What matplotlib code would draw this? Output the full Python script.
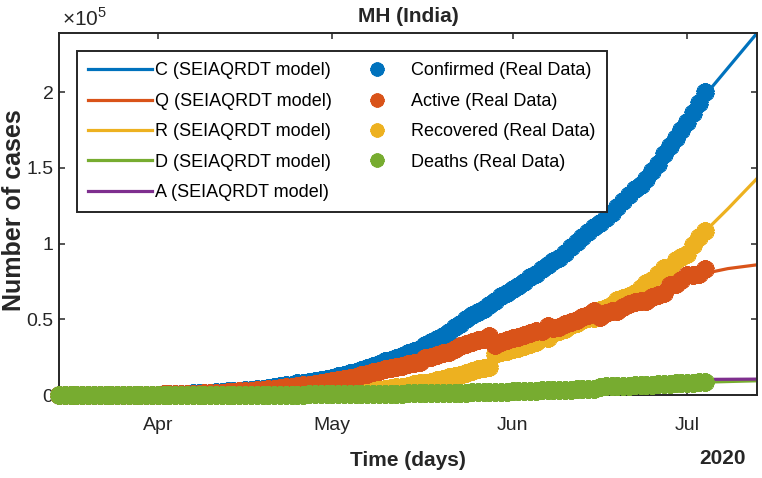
import matplotlib
matplotlib.use("Agg")
import matplotlib.pyplot as plt
import matplotlib.dates as mdates
from matplotlib import font_manager
from matplotlib.lines import Line2D
import pandas as pd

# real data (thousands of cases), one value per day from 15 Mar to 4 Jul 2020
days = pd.date_range("2020-03-15", "2020-07-04")

confirmed_k = [
    0.03, 0.04, 0.04, 0.05, 0.05, 0.05, 0.06, 0.07, 0.10, 0.11, 0.12, 0.13, 0.15, 0.19, 0.20, 0.22, 0.30,
    0.34, 0.42, 0.49, 0.64, 0.75, 0.87, 1.02, 1.14, 1.36, 1.57, 1.76, 1.98, 2.33, 2.69, 2.92,
    3.21, 3.32, 3.65, 4.20, 4.67, 5.22, 5.65, 6.43, 6.82, 7.63, 8.07, 8.59, 9.32, 9.92, 10.50,
    11.5, 12.3, 13.0, 14.5, 15.5, 16.8, 18.0, 19.1, 20.2, 22.2, 23.4, 24.4, 25.9, 27.5, 29.1, 30.7,
    33.1, 35.1, 37.1, 39.3, 41.6, 44.6, 47.2, 50.2, 52.7, 54.8, 56.9, 59.5, 62.2, 65.2, 67.7,
    70.0, 72.3, 74.9, 77.8, 80.2, 83.0, 86.0, 88.5, 90.8, 94.0, 97.6, 101.1, 104.6, 108.0, 110.7,
    113.4, 116.8, 120.5, 124.3, 128.2, 132.1, 135.8, 139.0, 142.9, 147.7, 152.8, 159.1, 164.6, 169.9, 174.8,
    180.3, 186.6, 193.0, 200.1,
]
active_k = [
    0.03, 0.04, 0.04, 0.05, 0.05, 0.05, 0.06, 0.07, 0.10, 0.11, 0.12, 0.11, 0.11, 0.15, 0.16, 0.17, 0.25,
    0.28, 0.36, 0.41, 0.56, 0.64, 0.75, 0.88, 0.95, 1.13, 1.27, 1.42, 1.61, 1.94, 2.25, 2.43,
    2.72, 2.79, 3.07, 3.47, 3.87, 4.25, 4.59, 5.31, 5.56, 6.20, 6.54, 6.94, 7.53, 7.90, 8.27,
    9.13, 9.78, 10.33, 11.45, 12.06, 13.06, 14.01, 14.9, 15.62, 17.17, 17.74, 18.35, 19.37, 20.42, 20.94, 21.87,
    24.21, 25.41, 26.13, 27.61, 28.45, 30.48, 32.22, 33.96, 35.2, 36.11, 37.1, 38.92, 33.1, 34.9, 36.11,
    37.43, 38.41, 39.89, 41.25, 42.03, 42.54, 45.43, 44.31, 44.86, 46.96, 47.91, 49.58, 51.47, 53.15, 55.57,
    51.86, 53.85, 55.55, 55.61, 58.13, 60.12, 61.57, 62.07, 62.36, 64.57, 65.89, 67.63, 72.97, 73.39, 76.04,
    79.05, 79.22, 79.92, 83.33,
]
recovered_k = [
    0, 0, 0, 0, 0, 0, 0, 0, 0, 0, 0, 0.02, 0.03, 0.03, 0.03, 0.04, 0.04,
    0.04, 0.04, 0.05, 0.05, 0.06, 0.07, 0.08, 0.12, 0.13, 0.19, 0.21, 0.22, 0.23, 0.26, 0.30,
    0.30, 0.33, 0.37, 0.51, 0.57, 0.72, 0.79, 0.84, 0.96, 1.11, 1.19, 1.28, 1.39, 1.59, 1.77,
    1.88, 2.00, 2.12, 2.47, 2.82, 3.09, 3.30, 3.47, 3.80, 4.20, 4.79, 5.13, 5.55, 6.06, 7.09, 7.69,
    7.69, 8.44, 9.64, 10.3, 11.7, 12.6, 13.4, 14.6, 15.8, 16.9, 17.9, 18.6, 27.0, 28.1, 29.3,
    30.1, 31.3, 32.3, 33.7, 35.2, 37.4, 37.4, 40.9, 42.6, 43.6, 46.1, 47.8, 49.3, 50.9, 51.0,
    56.0, 57.3, 59.2, 62.8, 63.9, 65.7, 67.7, 70.4, 73.8, 76.2, 79.8, 84.2, 84.2, 88.9, 90.9,
    93.2, 99.2, 104.7, 108.1,
]
deaths_k = [
    0, 0, 0, 0, 0, 0, 0, 0, 0, 0, 0, 0, 0.01, 0.01, 0.01, 0.01, 0.01,
    0.02, 0.02, 0.03, 0.03, 0.05, 0.05, 0.06, 0.07, 0.10, 0.11, 0.13, 0.15, 0.16, 0.18, 0.19,
    0.19, 0.20, 0.21, 0.22, 0.23, 0.25, 0.27, 0.28, 0.30, 0.32, 0.34, 0.37, 0.40, 0.43, 0.46,
    0.49, 0.52, 0.55, 0.58, 0.62, 0.65, 0.69, 0.73, 0.78, 0.83, 0.87, 0.92, 0.98, 1.02, 1.07, 1.14,
    1.20, 1.25, 1.33, 1.39, 1.45, 1.52, 1.58, 1.64, 1.70, 1.79, 1.90, 1.98, 2.10, 2.20, 2.29,
    2.47, 2.59, 2.71, 2.85, 2.97, 3.06, 3.17, 3.29, 3.34, 3.44, 3.59, 3.72, 3.83, 3.95, 4.13,
    5.54, 5.65, 5.75, 5.89, 6.17, 6.28, 6.53, 6.53, 6.74, 6.93, 7.11, 7.27, 7.43, 7.61, 7.86,
    8.05, 8.18, 8.38, 8.67,
]

# SEIAQRDT model curves (thousands)
model_dates = pd.to_datetime([
    "2020-03-15", "2020-03-25", "2020-04-04", "2020-04-14", "2020-04-24", "2020-05-04", "2020-05-14",
    "2020-05-24", "2020-06-03", "2020-06-13", "2020-06-23", "2020-07-03", "2020-07-08", "2020-07-13",
])
model_C = [0, 0.13, 0.6, 2.3, 6.8, 13.5, 27.5, 50, 75, 104.5, 139, 193, 216, 239]
model_Q = [0, 0.12, 0.5, 2.1, 5.6, 11, 20, 34, 40, 50, 62, 79.5, 83.5, 86]
model_R = [0, 0.02, 0.06, 0.3, 1.0, 2.3, 5.2, 14, 30, 46, 68, 104, 123, 143]
model_D = [0, 0.005, 0.03, 0.18, 0.3, 0.6, 1.0, 1.6, 2.7, 3.9, 6.5, 8.4, 8.9, 9.4]
model_A = [0, 0.1, 0.4, 1.2, 2.0, 3.0, 4.0, 5.0, 5.5, 7.0, 9.3, 10.3, 10.4, 10.5]

model_labels = ["C (SEIAQRDT model)", "Q (SEIAQRDT model)", "R (SEIAQRDT model)",
                "D (SEIAQRDT model)", "A (SEIAQRDT model)"]
real_labels = ["Confirmed (Real Data)", "Active (Real Data)", "Recovered (Real Data)", "Deaths (Real Data)"]

BLUE, ORANGE, YELLOW, PURPLE, GREEN = "#0072BD", "#D95319", "#EDB120", "#7E2F8E", "#77AC30"

try:
    font_manager.findfont("Liberation Sans Narrow", fallback_to_default=False)
    NARROW = "Liberation Sans Narrow"
    LEG_SIZE = 16
except Exception:
    NARROW = "Liberation Sans"
    LEG_SIZE = 13

plt.rcParams["font.family"] = ["Liberation Sans", "DejaVu Sans"]
plt.rcParams["mathtext.fontset"] = "custom"
plt.rcParams["mathtext.rm"] = "Liberation Sans"

fig = plt.figure(figsize=(7.62, 4.78), dpi=100)
ax = fig.add_axes([0.0774, 0.1736, 0.916, 0.757])

k = 1000.0
model_series = [(model_C, BLUE), (model_Q, ORANGE), (model_R, YELLOW), (model_D, GREEN), (model_A, PURPLE)]
for (vals, col), lab in zip(model_series, model_labels):
    ax.plot(model_dates, [v * k for v in vals], color=col, lw=2.3, label=lab, zorder=2)

star = (10, 2, 0)
mk = dict(ls="none", marker=star, ms=13, mew=3.4, clip_on=False, zorder=3)
ax.plot(days, [v * k for v in confirmed_k], color=BLUE, **mk)
ax.plot(days, [v * k for v in recovered_k], color=YELLOW, **mk)
ax.plot(days, [v * k for v in active_k], color=ORANGE, **mk)
ax.plot(days, [v * k for v in deaths_k], color=GREEN, **mk)

ax.set_xlim(pd.Timestamp("2020-03-15"), pd.Timestamp("2020-07-13"))
ax.set_ylim(0, 239000)

ax.xaxis.set_major_locator(mdates.MonthLocator(bymonth=[4, 5, 6, 7]))
ax.xaxis.set_major_formatter(mdates.DateFormatter("%b"))
ax.set_yticks([0, 50000, 100000, 150000, 200000])
ax.set_yticklabels(["0", "0.5", "1", "1.5", "2"])

axcol = "#262626"
for sp in ax.spines.values():
    sp.set_linewidth(1.4)
    sp.set_color(axcol)
    sp.set_zorder(2.5)
ax.tick_params(direction="in", top=True, right=True, length=4.5, width=1.1, color=axcol,
               labelsize=14, labelcolor="#262626")
ax.tick_params(axis="x", pad=16)
ax.tick_params(axis="y", pad=4)

ax.set_xlabel("Time (days)", fontsize=15, fontweight="bold", color="#262626")
ax.xaxis.set_label_coords(0.5, -0.18)
ax.xaxis.label.set_va("center")
ax.set_ylabel("Number of cases", fontsize=18, fontweight="bold", color="#262626")
ax.yaxis.set_label_coords(-0.0645, 0.511)
ax.yaxis.label.set_va("center")

ax.text(0.5, 1 + 17 / 362, "MH (India)", transform=ax.transAxes, ha="center", va="center",
        fontsize=15, fontweight="bold", color="#262626")
ax.text(0.004, 1.008, r"$\times10^{5}$", transform=ax.transAxes, ha="left", va="bottom",
        fontsize=15, color="#262626")
fig.text(722 / 762, 1 - 459 / 478, "2020", ha="center", va="center", fontsize=15,
         fontweight="bold", color="#262626")

handles = [Line2D([], [], color=c, lw=2.3) for _, c in model_series]
for col in (BLUE, ORANGE, YELLOW, GREEN):
    handles.append(Line2D([], [], ls="none", marker=star, ms=10, mew=2.8, color=col))
leg = ax.legend(handles, model_labels + real_labels, ncol=2, loc="upper left",
                bbox_to_anchor=(0.026, 0.95), borderaxespad=0, fancybox=False, framealpha=1,
                edgecolor=axcol, prop={"family": NARROW, "size": LEG_SIZE}, handlelength=3.5,
                handletextpad=0.17, columnspacing=0.75, labelspacing=0.74, borderpad=0.62)
leg.get_frame().set_linewidth(1.4)

fig.savefig("out.png", dpi=100)
